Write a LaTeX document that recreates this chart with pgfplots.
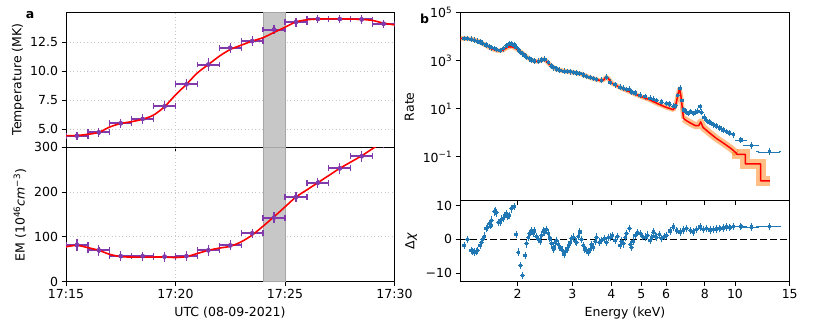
\documentclass[border=0pt]{standalone}
\usepackage{fontspec}
\setmainfont{DejaVu Sans}
\usepackage{pgfplots}
\pgfplotsset{compat=1.18}
\definecolor{cblue}{RGB}{31,119,180}
\definecolor{corange}{RGB}{255,127,14}
\definecolor{cpurple}{RGB}{128,58,172}
\newcommand{\fs}{\fontsize{12.5}{15}\selectfont}
\pgfplotsset{panel/.style={scale only axis, anchor=south west, tick pos=left, tick align=outside,
  major tick length=4.4pt, axis line style={line width=0.8pt}, tick style={black, line width=0.8pt},
  ticklabel style={font=\fs}, /pgf/number format/assume math mode=true},
  leftgrid/.style={grid=major, major grid style={gray!45, line width=0.8pt, dash pattern=on 1pt off 2.5pt}},
  purx/.style={cpurple, only marks, mark=none, error bars/.cd, x dir=both, x fixed=0.5, error mark=|,
  error bar style={cpurple, line width=2pt},
  error mark options={cpurple, line width=1.3pt, mark size=2.9pt}},
  pury/.style={cpurple, only marks, mark=none, error bars/.cd, y dir=both, y explicit, error mark=-,
  error bar style={cpurple, line width=1.3pt},
  error mark options={cpurple, line width=1.2pt, mark size=2.4pt}},
  bluebars/.style={cblue, only marks, mark=square*, mark size=1.1pt, line width=0.85pt,
  error bars/error mark options={cblue, line width=0.85pt, mark size=1.4pt}}}

\begin{document}
\begin{tikzpicture}
\useasboundingbox (0,0) rectangle (822pt,320pt);

% temperature
\begin{axis}[panel, leftgrid, at={(66pt,172.7pt)}, width=328.5pt, height=134.6pt,
  xmin=0, xmax=15, ymin=3.45, ymax=15.05, xtick={0,5,10,15}, xticklabels={},
  ytick={5,7.5,10,12.5}, yticklabels={5.0,7.5,10.0,12.5}]
\fill[black!22, draw=black!35, line width=0.8pt] (axis cs:9,3.45) rectangle (axis cs:10,15.05);
\addplot[purx] coordinates {(0.5,4.45) (1.5,4.74) (2.5,5.52) (3.5,5.89) (4.5,6.98) (5.5,8.88) (6.5,10.58) (7.5,12.03) (8.5,12.6) (9.5,13.6) (10.5,14.24) (11.5,14.5) (12.5,14.5) (13.5,14.47) (14.5,14.1)};
\addplot[pury] coordinates {(0.5,4.45) +- (0,0.15) (1.5,4.74) +- (0,0.2) (2.5,5.52) +- (0,0.18) (3.5,5.89) +- (0,0.2) (4.5,6.98) +- (0,0.22) (5.5,8.88) +- (0,0.25) (6.5,10.58) +- (0,0.33) (7.5,12.03) +- (0,0.22) (8.5,12.6) +- (0,0.2) (9.5,13.6) +- (0,0.2) (10.5,14.24) +- (0,0.18) (11.5,14.5) +- (0,0.15) (12.5,14.5) +- (0,0.15) (13.5,14.47) +- (0,0.15) (14.5,14.1) +- (0,0.15)};
\addplot[red, line width=1.6pt, smooth] coordinates {(0,4.45) (0.5,4.47) (1,4.57) (1.5,4.74) (2,5.2) (2.5,5.5) (3,5.66) (3.5,5.87) (4,6.23) (4.5,6.95) (5,7.96) (5.5,8.88) (6,9.86) (6.5,10.58) (7,11.3) (7.5,11.88) (8,12.25) (8.5,12.6) (9,12.9) (9.5,13.35) (10,13.8) (10.5,14.25) (11,14.44) (11.5,14.5) (12,14.52) (12.5,14.52) (13,14.5) (13.5,14.47) (14,14.38) (14.5,14.15) (15,14.0)};
\end{axis}

% emission measure
\begin{axis}[panel, leftgrid, at={(66pt,38.3pt)}, width=328.5pt, height=134.4pt,
  xmin=0, xmax=15, ymin=0, ymax=300, xtick={0,5,10,15}, xticklabels={17:15,17:20,17:25,17:30},
  ytick={0,100,200,300}]
\fill[black!22, draw=black!35, line width=0.8pt] (axis cs:9,0) rectangle (axis cs:10,300);
\addplot[purx] coordinates {(0.5,82) (1.5,70) (2.5,57) (3.5,57) (4.5,56) (5.5,57) (6.5,70) (7.5,81) (8.5,108) (9.5,143) (10.5,189) (11.5,221) (12.5,253) (13.5,280) (14.5,310)};
\addplot[pury] coordinates {(0.5,82) +- (0,9) (1.5,70) +- (0,7) (2.5,57) +- (0,6) (3.5,57) +- (0,5) (4.5,56) +- (0,6) (5.5,57) +- (0,6) (6.5,70) +- (0,7) (7.5,81) +- (0,6) (8.5,108) +- (0,5) (9.5,143) +- (0,7) (10.5,189) +- (0,6) (11.5,221) +- (0,6) (12.5,253) +- (0,7) (13.5,280) +- (0,7) (14.5,310) +- (0,7)};
\addplot[red, line width=1.6pt, smooth] coordinates {(0,78) (0.5,81) (1,76) (1.5,70) (2,61) (2.5,56) (3,55) (3.5,55) (4,55) (4.5,55) (5,54) (5.5,56) (6,63) (6.5,70) (7,75) (7.5,79) (8,89) (8.5,104) (9,124) (9.5,145) (10,167) (10.5,189) (11,205) (11.5,221) (12,237) (12.5,253) (13,267) (13.5,281) (14,297) (14.5,313) (15,330)};
\end{axis}

% spectrum (rate given as log10 values)
\begin{axis}[panel, at={(460pt,119.3pt)}, width=329.7pt, height=188pt,
  xmode=log, xmin=1.305, xmax=15, xminorticks=false, xtick={2,3,4,5,6,8,10,15}, xticklabels={},
  ymin=-2.83, ymax=5, ytick={-1,1,3,5},
  yticklabels={10\textsuperscript{−1},10\textsuperscript{1},10\textsuperscript{3},10\textsuperscript{5}}]
% model uncertainty band
\addplot[corange, opacity=0.5, line width=4.5pt, line join=round] coordinates {(1.31,3.93) (1.40,3.91) (1.45,3.87) (1.50,3.80) (1.55,3.70) (1.60,3.60) (1.65,3.50) (1.70,3.44) (1.75,3.41) (1.80,3.45) (1.85,3.55) (1.88,3.58) (1.93,3.57) (1.98,3.50) (2.03,3.40) (2.08,3.30) (2.13,3.18) (2.19,3.06) (2.25,3.00) (2.31,2.97) (2.36,3.00) (2.42,3.05) (2.46,3.02) (2.51,2.90) (2.58,2.76) (2.66,2.65) (2.75,2.60) (2.85,2.56) (2.95,2.53) (3.05,2.50) (3.17,2.46) (3.30,2.38) (3.42,2.30) (3.55,2.23) (3.68,2.18) (3.78,2.20) (3.86,2.32) (3.92,2.25) (4.01,2.07) (4.15,1.97) (4.37,1.82) (4.60,1.70) (4.95,1.52) (5.30,1.38) (5.60,1.23) (5.95,1.08) (6.20,1.00) (6.34,0.96) (6.45,1.15) (6.55,1.55) (6.63,1.84) (6.70,1.55) (6.83,0.60)};
\addplot[corange, opacity=0.5, line width=7pt, line join=round] coordinates {(6.85,0.58) (6.99,0.50) (7.20,0.40) (7.45,0.30) (7.65,0.30) (7.76,0.45) (7.90,0.22) (8.20,0.04) (8.70,-0.23) (9.20,-0.44) (9.70,-0.65) (10.13,-0.86)};
\addplot[corange, opacity=0.5, line width=10pt, line join=miter] coordinates {(10.13,-0.80) (10.13,-0.90) (10.8,-0.90) (10.8,-1.30) (12.1,-1.30) (12.1,-2.0) (12.96,-2.0)};
\addplot[bluebars, error bars/.cd, x dir=both, x fixed relative=0.006, y dir=both, y fixed=0.06] coordinates {(1.344,3.93) (1.381,3.92) (1.416,3.90) (1.451,3.86) (1.487,3.82) (1.513,3.78) (1.543,3.73) (1.582,3.66) (1.621,3.58) (1.650,3.54) (1.682,3.51) (1.712,3.47) (1.755,3.43) (1.798,3.50) (1.843,3.62) (1.880,3.70) (1.912,3.72) (1.946,3.66) (1.975,3.56) (2.009,3.45) (2.045,3.35) (2.075,3.29) (2.111,3.21) (2.137,3.15) (2.180,3.08) (2.218,3.03) (2.262,2.99) (2.330,2.98) (2.388,3.03) (2.447,3.06) (2.509,2.93) (2.572,2.78) (2.616,2.71) (2.669,2.66) (2.735,2.61) (2.818,2.57) (2.888,2.55) (2.946,2.54) (3.020,2.51) (3.095,2.49) (3.172,2.47) (3.252,2.41) (3.333,2.34) (3.417,2.30) (3.502,2.26) (3.591,2.22) (3.726,2.19) (3.866,2.31) (3.963,2.10) (4.111,2.00) (4.267,1.90) (4.374,1.85) (4.482,1.80) (4.573,1.81) (4.652,1.70) (4.768,1.66) (4.948,1.57) (5.134,1.50) (5.328,1.44) (5.462,1.40) (5.598,1.34) (5.809,1.28) (6.029,1.22) (6.15,1.20) (6.333,1.10) (6.45,1.12) (6.55,1.55) (6.655,1.85) (6.75,1.35) (6.85,0.95) (6.991,0.85) (7.1,0.80) (7.2,0.88) (7.345,0.80) (7.45,0.85) (7.6,0.90) (7.716,1.08) (7.82,0.85) (7.95,0.65) (8.106,0.52) (8.25,0.45) (8.40,0.38) (8.516,0.33) (8.7,0.28) (8.946,0.20) (9.15,0.12) (9.399,0.05) (9.6,-0.01) (9.874,-0.08)};
\addplot[bluebars, error bars/.cd, x dir=both, x explicit, y dir=both, y fixed=0.08] coordinates {(10.45,-0.30) +- (0.33,0) (11.3,-0.52) +- (0.56,0) (12.9,-0.79) +- (1.05,0)};
\addplot[red, line width=1.5pt, line join=round] coordinates {(1.31,3.93) (1.40,3.91) (1.45,3.87) (1.50,3.80) (1.55,3.70) (1.60,3.60) (1.65,3.50) (1.70,3.44) (1.75,3.41) (1.80,3.45) (1.85,3.55) (1.88,3.58) (1.93,3.57) (1.98,3.50) (2.03,3.40) (2.08,3.30) (2.13,3.18) (2.19,3.06) (2.25,3.00) (2.31,2.97) (2.36,3.00) (2.42,3.05) (2.46,3.02) (2.51,2.90) (2.58,2.76) (2.66,2.65) (2.75,2.60) (2.85,2.56) (2.95,2.53) (3.05,2.50) (3.17,2.46) (3.30,2.38) (3.42,2.30) (3.55,2.23) (3.68,2.18) (3.78,2.20) (3.86,2.32) (3.92,2.25) (4.01,2.07) (4.15,1.97) (4.37,1.82) (4.60,1.70) (4.95,1.52) (5.30,1.38) (5.60,1.23) (5.95,1.08) (6.20,1.00) (6.34,0.96) (6.45,1.15) (6.55,1.55) (6.63,1.84) (6.70,1.55) (6.83,0.60) (6.99,0.50) (7.20,0.40) (7.45,0.30) (7.65,0.30) (7.76,0.45) (7.90,0.22) (8.20,0.04) (8.70,-0.23) (9.20,-0.44) (9.70,-0.65) (10.13,-0.86) (10.13,-0.90) (10.8,-0.90) (10.8,-1.30) (12.1,-1.30) (12.1,-2.0) (12.96,-2.0)};
\end{axis}

% residuals
\begin{axis}[panel, at={(460pt,38.5pt)}, width=329.7pt, height=80.8pt,
  xmode=log, xmin=1.305, xmax=15, xminorticks=false, xtick={2,3,4,5,6,8,10,15}, xticklabels={2,3,4,5,6,8,10,15},
  ymin=-12.5, ymax=11.5, ytick={-10,0,10}, yticklabels={−10,0,10}]
\addplot[black, line width=1.8pt, dash pattern=on 7pt off 3pt] coordinates {(1.305,0) (15,0)};
\addplot[bluebars, error bars/.cd, x dir=both, x fixed relative=0.006, y dir=both, y fixed=0.7] coordinates {(1.344,-1.8) (1.381,0.0) (1.416,-3.3) (1.434,-3.6) (1.451,-3.8) (1.470,-3.6) (1.487,-3.3) (1.513,-1.8) (1.530,-1.0) (1.543,0.0) (1.562,1.0) (1.582,3.2) (1.600,3.5) (1.621,4.7) (1.640,4.2) (1.650,5.7) (1.682,8.2) (1.697,8.4) (1.712,7.9) (1.735,5.0) (1.755,5.2) (1.775,6.0) (1.798,6.2) (1.82,7.0) (1.843,7.6) (1.86,6.8) (1.880,7.1) (1.912,9.1) (1.946,9.8) (1.975,1.5) (2.009,-3.8) (2.045,-7.8) (2.075,-10.7) (2.111,-4.8) (2.137,-1.3) (2.16,0.5) (2.180,1.7) (2.20,2.0) (2.218,2.5) (2.24,1.9) (2.262,2.5) (2.30,0.8) (2.330,0.0) (2.36,-0.5) (2.388,1.2) (2.42,2.5) (2.447,2.2) (2.48,3.0) (2.509,1.7) (2.54,0.3) (2.572,-1.3) (2.60,-2.8) (2.616,-2.5) (2.64,-1.0) (2.669,-0.3) (2.70,-1.5) (2.735,-2.3) (2.78,-3.2) (2.818,-4.3) (2.85,-3.5) (2.888,-2.8) (2.92,-1.8) (2.946,-0.8) (2.98,0.2) (3.020,0.7) (3.06,-0.5) (3.095,-0.8) (3.13,0.8) (3.172,2.2) (3.21,0.0) (3.252,-1.8) (3.29,-2.8) (3.333,-3.3) (3.38,-3.8) (3.417,-3.0) (3.46,-1.5) (3.502,-2.3) (3.55,-0.5) (3.591,0.7) (3.66,-0.8) (3.726,-0.3) (3.80,0.3) (3.866,-0.8) (3.92,0.5) (3.963,0.7) (4.03,1.2) (4.111,-0.3) (4.19,0.8) (4.267,-1.8) (4.32,-0.5) (4.374,-1.3) (4.43,0.5) (4.482,1.7) (4.573,3.2) (4.612,-1.5) (4.652,-2.3) (4.70,-0.5) (4.768,1.2) (4.85,2.0) (4.948,1.7) (5.04,0.8) (5.134,0.7) (5.23,1.3) (5.328,-0.3) (5.40,0.5) (5.462,2.2) (5.53,1.0) (5.598,0.7) (5.70,1.5) (5.809,0.2) (5.92,0.8) (6.029,1.2) (6.18,2.5) (6.333,3.7) (6.50,2.7) (6.655,2.2) (6.82,2.8) (6.991,3.2) (7.17,2.6) (7.345,2.2) (7.52,3.0) (7.716,3.7) (7.91,3.0) (8.106,3.2) (8.31,2.8) (8.516,2.9) (8.73,3.1) (8.946,3.2) (9.17,3.4) (9.399,3.7) (9.63,3.5) (9.874,3.9)};
\addplot[bluebars, error bars/.cd, x dir=both, x explicit, y dir=both, y fixed=0.7] coordinates {(10.45,3.9) +- (0.33,0) (11.3,3.7) +- (0.56,0) (12.9,3.8) +- (1.05,0)};
\end{axis}

\node[rotate=90, font=\fs] at (18pt,240.5pt) {Temperature (MK)};
\node[rotate=90, font=\fs] at (20pt,105pt) {EM (10\textsuperscript{46}\textit{cm}\textsuperscript{−3})};
\node[rotate=90, font=\fs] at (409.5pt,213.3pt) {Rate};
\node[rotate=90, font=\fs] at (411pt,79pt) {Δ\textit{χ}};
\node[font=\fs] at (230pt,7pt) {UTC (08-09-2021)};
\node[font=\fs] at (625pt,7pt) {Energy (keV)};
\node[font=\fs\bfseries, anchor=base] at (30pt,301pt) {a};
\node[font=\fs\bfseries, anchor=base] at (424.5pt,296pt) {b};
\end{tikzpicture}
\end{document}
